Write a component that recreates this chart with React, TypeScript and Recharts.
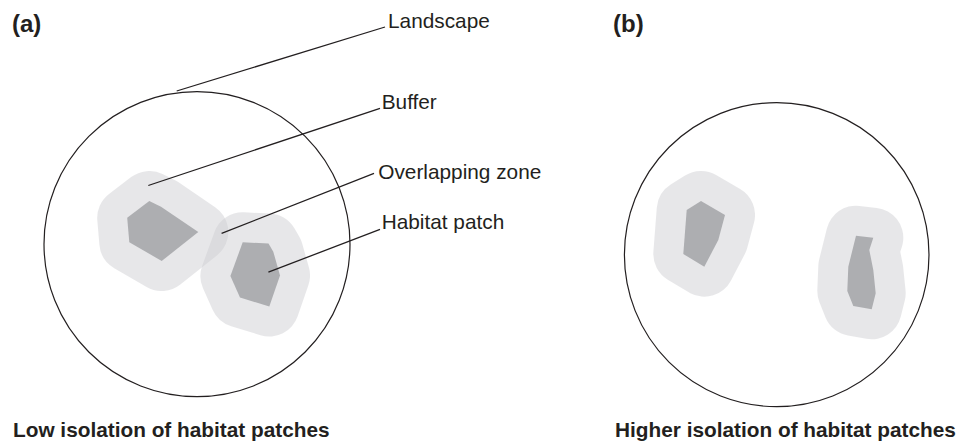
import { Scatter, ScatterChart, XAxis, YAxis } from "recharts";

const INK = "#231f20";
const BUFFER = "#cfcfd3";
const PATCH = "#adaeb1";
const FONT = '"Liberation Sans", Arial, Helvetica, sans-serif';

// landscape circles, given by their left / top / right / bottom extremes
const landscapeA = [
  { x: 44, y: 244.2 },
  { x: 197, y: 91.7 },
  { x: 350, y: 244.2 },
  { x: 197, y: 396.7 },
];
const landscapeB = [
  { x: 624.4, y: 254.7 },
  { x: 776.7, y: 102.7 },
  { x: 929, y: 254.7 },
  { x: 776.7, y: 406.7 },
];

// habitat patch outlines (the buffers are grown from the same outlines)
const patchA1 = [
  { x: 149.3, y: 201 },
  { x: 161, y: 206.7 },
  { x: 198.3, y: 232 },
  { x: 161.7, y: 261 },
  { x: 129.3, y: 242.2 },
  { x: 127.2, y: 217.8 },
];
const patchA2 = [
  { x: 242.7, y: 242.3 },
  { x: 268.5, y: 243.5 },
  { x: 273.3, y: 251.7 },
  { x: 280, y: 275.5 },
  { x: 269.3, y: 306.5 },
  { x: 240, y: 297.5 },
  { x: 230.4, y: 276 },
];
const patchB1 = [
  { x: 686.7, y: 210 },
  { x: 701, y: 201 },
  { x: 725, y: 215 },
  { x: 718.3, y: 240 },
  { x: 704.3, y: 266.7 },
  { x: 683.3, y: 254 },
];
const patchB2 = [
  { x: 856, y: 235.7 },
  { x: 873.3, y: 237.7 },
  { x: 869.3, y: 250 },
  { x: 873.3, y: 270 },
  { x: 875.7, y: 293.3 },
  { x: 871.7, y: 309.3 },
  { x: 853.3, y: 306 },
  { x: 847.3, y: 291 },
  { x: 848.3, y: 266.7 },
];

// leader lines from the marks to their labels
const leaderLandscape = [
  { x: 176.7, y: 91 },
  { x: 385, y: 27 },
];
const leaderBuffer = [
  { x: 148.3, y: 185.5 },
  { x: 380, y: 108.3 },
];
const leaderOverlap = [
  { x: 221.6, y: 233.4 },
  { x: 374, y: 173.4 },
];
const leaderPatch = [
  { x: 268.4, y: 272.2 },
  { x: 380, y: 229.3 },
];

const calloutLabels = [
  { x: 388, y: 28.3, label: "Landscape" },
  { x: 381.7, y: 109, label: "Buffer" },
  { x: 378.3, y: 179, label: "Overlapping zone" },
  { x: 381.7, y: 229.3, label: "Habitat patch" },
];
const panelLetters = [
  { x: 12, y: 31.5, label: "(a)" },
  { x: 613, y: 31.5, label: "(b)" },
];
const captions = [
  { x: 13, y: 436.5, label: "Low isolation of habitat patches" },
  { x: 615, y: 436.5, label: "Higher isolation of habitat patches" },
];

const noDot = () => <g />;

const toPoints = (pts: { x: number; y: number }[]) => pts.map((q) => `${q.x},${q.y}`).join(" ");

const ring = (p: any) => {
  const xs = p.points.map((q: any) => q.x);
  const ys = p.points.map((q: any) => q.y);
  const x0 = Math.min(...xs);
  const x1 = Math.max(...xs);
  const y0 = Math.min(...ys);
  const y1 = Math.max(...ys);
  return (
    <ellipse
      cx={(x0 + x1) / 2}
      cy={(y0 + y1) / 2}
      rx={(x1 - x0) / 2}
      ry={(y1 - y0) / 2}
      fill="none"
      stroke={INK}
      strokeWidth={1.2}
    />
  );
};

const buffer = (p: any) => (
  <polygon
    points={toPoints(p.points)}
    fill={BUFFER}
    stroke={BUFFER}
    strokeWidth={60}
    strokeLinejoin="round"
    opacity={0.48}
  />
);

const patch = (p: any) => <polygon points={toPoints(p.points)} fill={PATCH} stroke="none" />;

const leader = (p: any) => (
  <polyline points={toPoints(p.points)} fill="none" stroke={INK} strokeWidth={1.3} />
);

const textShape = (size: number, weight: string) => (p: any) => (
  <text x={p.cx} y={p.cy} fontSize={size} fontWeight={weight} fontFamily={FONT} fill={INK}>
    {p.payload.label}
  </text>
);

export default function App() {
  return (
    <div style={{ position: "absolute", left: 0, top: 0, background: "#ffffff" }}>
      <ScatterChart width={962} height={442} margin={{ top: 0, right: 0, bottom: 0, left: 0 }}>
        <XAxis type="number" dataKey="x" domain={[0, 962]} allowDataOverflow hide />
        <YAxis type="number" dataKey="y" domain={[0, 442]} allowDataOverflow reversed hide />

        {[patchA1, patchA2, patchB1, patchB2].map((d, i) => (
          <Scatter key={`buf${i}`} data={d} shape={noDot} line={buffer} isAnimationActive={false} />
        ))}
        {[patchA1, patchA2, patchB1, patchB2].map((d, i) => (
          <Scatter key={`pat${i}`} data={d} shape={noDot} line={patch} isAnimationActive={false} />
        ))}

        <Scatter data={landscapeA} shape={noDot} line={ring} isAnimationActive={false} />
        <Scatter data={landscapeB} shape={noDot} line={ring} isAnimationActive={false} />

        {[leaderLandscape, leaderBuffer, leaderOverlap, leaderPatch].map((d, i) => (
          <Scatter key={`lead${i}`} data={d} shape={noDot} line={leader} isAnimationActive={false} />
        ))}

        <Scatter data={calloutLabels} shape={textShape(20.8, "normal")} isAnimationActive={false} />
        <Scatter data={panelLetters} shape={textShape(24, "bold")} isAnimationActive={false} />
        <Scatter data={captions} shape={textShape(20.8, "bold")} isAnimationActive={false} />
      </ScatterChart>
    </div>
  );
}
